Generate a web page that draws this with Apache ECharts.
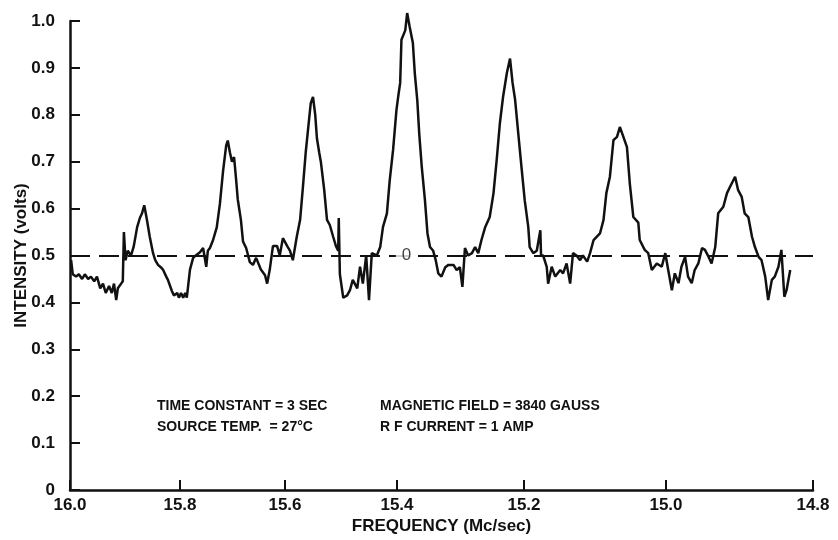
<!DOCTYPE html>
<html>
<head>
<meta charset="utf-8">
<script src="https://cdn.jsdelivr.net/npm/echarts@6/dist/echarts.min.js"></script>
<style>
html,body{margin:0;padding:0;background:#fff;}
#chart{width:838px;height:540px;}
</style>
</head>
<body>
<div id="chart"></div>
<script>
// ---- Axis calibration (the recorder's frequency scale is not linear) ----
const axisFreq = [16.0, 15.8, 15.6, 15.4, 15.2, 15.0, 14.8];
const axisDist = [0, 110, 215, 327, 454, 596, 743];   // relative chart distance of each labelled frequency
const xTickLabels = ['16.0', '15.8', '15.6', '15.4', '15.2', '15.0', '14.8'];

// ---- Trace: frequency (Mc/sec) and intensity (volts) ----
const traceFreq = [
  15.998,15.995,15.989,15.984,15.978,15.973,15.967,15.962,15.956,15.951,
  15.945,15.940,15.935,15.929,15.924,15.920,15.916,15.913,15.907,15.904,
  15.902,15.899,15.895,15.889,15.884,15.878,15.873,15.869,15.865,15.860,
  15.855,15.849,15.845,15.840,15.835,15.831,15.825,15.822,15.818,15.815,
  15.811,15.805,15.802,
  15.798,15.794,15.790,15.787,15.781,15.775,15.770,15.762,15.756,15.750,
  15.747,15.743,15.737,15.730,15.724,15.718,15.712,15.709,15.705,15.701,
  15.697,15.693,15.690,15.684,15.680,15.674,15.667,15.661,15.655,15.646,
  15.638,15.634,15.629,15.623,15.615,15.610,15.604,
  15.596,15.591,15.586,15.579,15.573,15.568,15.563,15.557,15.554,15.550,
  15.546,15.543,15.539,15.536,15.530,15.525,15.520,15.514,15.509,15.505,
  15.504,15.502,15.496,15.489,15.484,15.479,15.471,15.466,15.461,15.455,
  15.450,15.445,15.436,15.430,15.425,15.418,15.413,15.407,15.401,
  15.398,15.395,15.393,15.387,15.384,15.380,15.375,15.372,15.368,15.365,
  15.361,15.356,15.352,15.348,15.343,15.339,15.335,15.330,15.324,15.319,
  15.311,15.306,15.301,15.297,15.293,15.288,15.282,15.277,15.272,15.267,
  15.261,15.254,15.248,15.243,15.238,15.233,15.227,15.222,15.218,15.214,
  15.209,15.204,
  15.199,15.194,15.192,15.187,15.182,15.177,15.176,15.173,15.168,15.166,
  15.161,15.156,15.149,15.145,15.140,15.135,15.131,15.126,15.121,15.117,
  15.111,15.107,15.102,15.093,15.088,15.084,15.079,15.074,15.069,15.065,
  15.060,15.055,15.051,15.046,15.039,15.037,15.030,15.025,15.020,15.013,
  15.006,15.001,
  14.997,14.992,14.988,14.983,14.979,14.974,14.970,14.965,14.961,14.956,
  14.951,14.947,14.942,14.938,14.933,14.929,14.922,14.917,14.913,14.906,
  14.902,14.897,14.893,14.888,14.883,14.879,14.874,14.870,14.865,14.861,
  14.856,14.852,14.847,14.843,14.839,14.836,14.831
];
const traceVolts = [
  0.490,0.460,0.455,0.460,0.450,0.460,0.450,0.455,0.445,0.455,
  0.430,0.440,0.420,0.435,0.420,0.440,0.405,0.430,0.440,0.445,
  0.550,0.490,0.510,0.500,0.520,0.560,0.580,0.590,0.607,0.575,
  0.540,0.505,0.490,0.480,0.475,0.470,0.455,0.448,0.435,0.425,
  0.415,0.420,0.410,
  0.420,0.410,0.420,0.410,0.470,0.495,0.500,0.507,0.516,0.476,
  0.510,0.516,0.533,0.560,0.610,0.680,0.735,0.745,0.720,0.700,
  0.710,0.660,0.620,0.576,0.530,0.516,0.486,0.480,0.495,0.470,
  0.458,0.440,0.470,0.520,0.520,0.500,0.537,
  0.520,0.510,0.490,0.540,0.576,0.646,0.720,0.790,0.825,0.838,
  0.800,0.750,0.720,0.700,0.640,0.576,0.565,0.540,0.520,0.510,
  0.580,0.460,0.410,0.415,0.426,0.448,0.430,0.476,0.440,0.500,
  0.405,0.505,0.500,0.518,0.561,0.590,0.660,0.725,0.810,
  0.840,0.868,0.960,0.980,1.017,0.987,0.953,0.889,0.830,0.760,
  0.689,0.618,0.547,0.518,0.510,0.490,0.462,0.455,0.475,0.480,
  0.480,0.469,0.475,0.433,0.516,0.500,0.505,0.518,0.505,0.533,
  0.561,0.582,0.633,0.704,0.782,0.838,0.889,0.920,0.868,0.832,
  0.760,0.689,
  0.618,0.561,0.518,0.505,0.510,0.554,0.500,0.500,0.476,0.440,
  0.476,0.455,0.469,0.462,0.483,0.440,0.505,0.500,0.490,0.500,
  0.487,0.505,0.533,0.547,0.576,0.633,0.668,0.746,0.753,0.774,
  0.753,0.731,0.654,0.582,0.570,0.533,0.512,0.505,0.469,0.483,
  0.476,0.505,
  0.469,0.426,0.462,0.441,0.476,0.497,0.455,0.441,0.469,0.483,
  0.516,0.512,0.497,0.483,0.518,0.590,0.604,0.633,0.646,0.668,
  0.640,0.625,0.590,0.582,0.540,0.518,0.497,0.490,0.455,0.405,
  0.448,0.455,0.476,0.512,0.412,0.426,0.469
];

const baselineVolts = 0.5;
const zeroFreq = 15.385;
const zeroLabel = '0';

const notesLeft = ['TIME CONSTANT = 3 SEC', 'SOURCE TEMP.  = 27°C'];
const notesRight = ['MAGNETIC FIELD = 3840 GAUSS', 'R F CURRENT = 1 AMP'];

// piecewise mapping of frequency onto the chart's distance scale
function toDist(f) {
  for (let i = 0; i < axisFreq.length - 1; i++) {
    const a = axisFreq[i], b = axisFreq[i + 1];
    if (f <= a && f >= b) {
      return axisDist[i] + (a - f) / (a - b) * (axisDist[i + 1] - axisDist[i]);
    }
  }
  return f > axisFreq[0] ? axisDist[0] : axisDist[axisDist.length - 1];
}

const FONT = 'Liberation Sans';
const INK = '#111';
const NOTE_FONT = 'bold 14px "Liberation Sans"';

const chart = echarts.init(document.getElementById('chart'), null, {renderer: 'canvas'});
chart.setOption({
  backgroundColor: '#ffffff',
  animation: false,
  grid: {left: 70, right: 25, top: 21, bottom: 50, containLabel: false, outerBoundsMode: 'none'},
  xAxis: {
    type: 'value',
    min: axisDist[0],
    max: axisDist[axisDist.length - 1],
    name: 'FREQUENCY (Mc/sec)',
    nameLocation: 'middle',
    nameGap: 28,
    nameMoveOverlap: false,
    nameTextStyle: {fontFamily: FONT, fontSize: 17, fontWeight: 'bold', color: INK},
    axisLine: {show: true, onZero: false, lineStyle: {color: INK, width: 2.5}},
    axisTick: {show: true, inside: true, length: 10, customValues: axisDist, lineStyle: {color: INK, width: 2}},
    axisLabel: {
      show: true, margin: 7, customValues: axisDist,
      fontFamily: FONT, fontSize: 17, fontWeight: 'bold', color: INK,
      formatter: function (v) {
        const i = axisDist.indexOf(Math.round(v));
        return i >= 0 ? xTickLabels[i] : '';
      }
    },
    splitLine: {show: false}
  },
  yAxis: {
    type: 'value',
    min: 0, max: 1, interval: 0.1,
    name: 'INTENSITY (volts)',
    nameLocation: 'middle',
    nameGap: 40,
    nameMoveOverlap: false,
    nameTextStyle: {fontFamily: FONT, fontSize: 17, fontWeight: 'bold', color: INK},
    axisLine: {show: true, lineStyle: {color: INK, width: 2.5}},
    axisTick: {show: true, inside: true, length: 10, lineStyle: {color: INK, width: 2}},
    axisLabel: {
      margin: 15, fontFamily: FONT, fontSize: 17, fontWeight: 'bold', color: INK,
      formatter: function (v) { return v === 0 ? '0' : v.toFixed(1); }
    },
    splitLine: {show: false}
  },
  series: [
    {
      type: 'line',
      data: traceFreq.map((f, i) => [toDist(f), traceVolts[i]]),
      showSymbol: false,
      clip: false,
      lineStyle: {color: INK, width: 2.5},
      z: 3,
      markLine: {
        silent: true,
        symbol: ['none', 'none'],
        label: {show: false},
        lineStyle: {color: INK, width: 2, type: [20, 9]},
        data: [{yAxis: baselineVolts}]
      }
    },
    {
      type: 'scatter',
      data: [[toDist(zeroFreq), baselineVolts]],
      symbolSize: 1,
      itemStyle: {color: 'rgba(0,0,0,0)'},
      z: 5,
      label: {
        show: true, position: 'inside', formatter: zeroLabel,
        fontFamily: FONT, fontSize: 17, color: INK,
        backgroundColor: '#fff', padding: [0, 6]
      }
    }
  ],
  graphic: [
    {type: 'text', left: 157, top: 399, style: {text: notesLeft[0], font: NOTE_FONT, fill: INK}},
    {type: 'text', left: 157, top: 420, style: {text: notesLeft[1], font: NOTE_FONT, fill: INK}},
    {type: 'text', left: 380, top: 399, style: {text: notesRight[0], font: NOTE_FONT, fill: INK}},
    {type: 'text', left: 380, top: 420, style: {text: notesRight[1], font: NOTE_FONT, fill: INK}}
  ]
});
</script>
</body>
</html>
